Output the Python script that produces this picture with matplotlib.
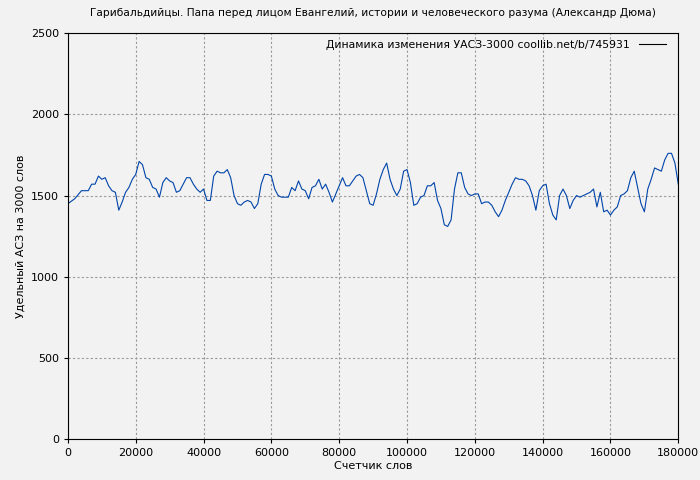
import matplotlib
matplotlib.use("Agg")
import matplotlib.pyplot as plt

vals = [1450,1480,1530,1530,1570,1570,1620,1600,1610,1560,1530,1520,1410,1460,1520,1550,1600,1630,1710,1690,
        1610,1600,1550,1540,1490,1580,1610,1590,1580,1520,1530,1570,1610,1610,1570,1540,1520,1540,1470,1470,
        1620,1650,1640,1640,1660,1610,1500,1450,1440,1460,1470,1460,1420,1450,1570,1630,1630,1620,1540,1500,
        1490,1490,1490,1550,1530,1590,1540,1530,1480,1550,1560,1600,1540,1570,1520,1460,1510,1560,1610,1560,
        1560,1590,1620,1630,1610,1530,1450,1440,1510,1600,1660,1700,1600,1540,1500,1540,1650,1660,1580,1440,
        1450,1490,1500,1560,1560,1580,1470,1420,1320,1310,1350,1540,1640,1640,1550,1510,1500,1510,1510,1450,
        1460,1460,1440,1400,1370,1410,1470,1520,1570,1610,1600,1600,1590,1560,1500,1410,1530,1560,1570,1450,
        1380,1350,1500,1540,1500,1420,1470,1500,1490,1500,1510,1520,1540,1430,1520,1400,1410,1380,1410,1430,
        1500,1510,1530,1610,1650,1550,1450,1400,1540,1600,1670,1660,1650,1720,1760,1760,1700,1570]
n_rest = len(vals) - 3
words = [0, 2000, 4000] + [6000 + 174000 * k / (n_rest - 1) for k in range(n_rest)]

fig = plt.figure(figsize=(7, 4.8), dpi=100)
fig.patch.set_facecolor("#f2f2f2")
ax = fig.add_axes([0.097, 0.085, 0.872, 0.846])
ax.set_facecolor("#f2f2f2")
ax.plot(words, vals, color="#0044aa", lw=0.8, label="Динамика изменения УАСЗ-3000 coollib.net/b/745931")
ax.set_xlim(0, 180000)
ax.set_ylim(0, 2500)
ax.set_xticks(range(0, 180001, 20000))
ax.set_yticks(range(0, 2501, 500))
ax.grid(True, color="#999999", ls=(0, (2, 2)), lw=0.8)
ax.tick_params(labelsize=8, length=3)
ax.set_xlabel("Счетчик слов", fontsize=8, labelpad=2)
ax.set_ylabel("Удельный АСЗ на 3000 слов", fontsize=8)
ax.set_title("Гарибальдийцы. Папа перед лицом Евангелий, истории и человеческого разума (Александр Дюма)", fontsize=7.7, pad=12)
leg = ax.legend(loc="upper right", fontsize=7.8, frameon=False, markerfirst=False, handlelength=2.5,
                borderaxespad=0.2, bbox_to_anchor=(0.99, 1.0))
leg.get_lines()[0].set_color("black")
leg.get_lines()[0].set_linewidth(0.8)
fig.savefig("out.png", dpi=100, facecolor=fig.get_facecolor())
